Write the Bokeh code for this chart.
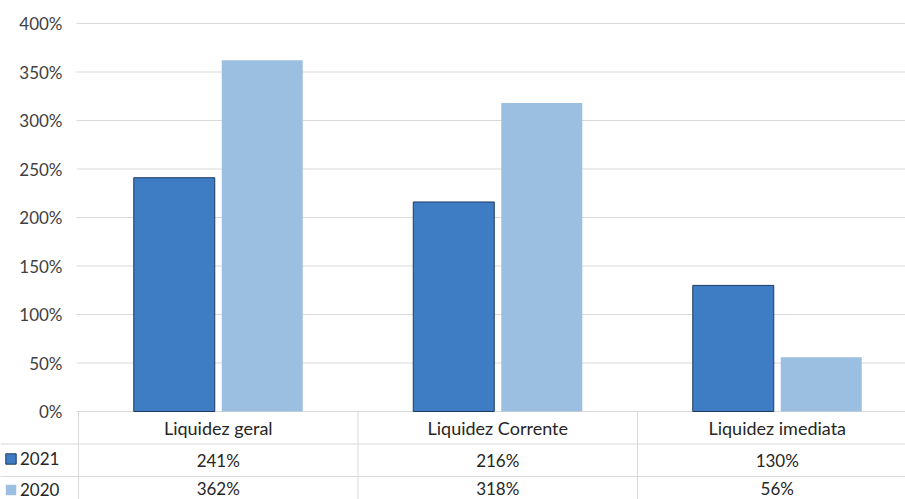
from bokeh.plotting import figure
from bokeh.models import Range1d, ColumnDataSource, Legend, LegendItem
from bokeh.core.properties import value
from bokeh.transform import dodge
from bokeh.embed import file_html
from bokeh.resources import INLINE

# ---- data -------------------------------------------------------------
categories = ["Liquidez geral", "Liquidez Corrente", "Liquidez imediata"]
series_names = ["2021", "2020"]
values_2021 = [241, 216, 130]
values_2020 = [362, 318, 56]
y_ticks = [0, 50, 100, 150, 200, 250, 300, 350, 400]

# ---- layout constants (pixels) ------------------------------------------
W, H = 905, 499
ZERO_X = 78               # canvas column where the first category starts
CAT_PX = 279.5            # horizontal pixels per category
PX_PER_UNIT = 0.97        # vertical pixels per percentage point
ZERO_Y = 411              # canvas row of the 0% line
LABEL_RIGHT = 62          # right edge of the y tick labels
GRID_LEFT = 76            # left end of the gridlines
ROW_PX = 32.5             # height of one data-table row

BAR_W = 81 / CAT_PX
OFFSET = 44 / CAT_PX

FONT = "Lato"
C2021 = "#3e7cc4"
C2020 = "#9bbfe0"
GRID = "#d9d9d9"
TXT = "#262626"

x_start = -ZERO_X / CAT_PX
x_end = (W - ZERO_X) / CAT_PX
y_start = -(H - ZERO_Y) / PX_PER_UNIT
y_end = ZERO_Y / PX_PER_UNIT
ROW = ROW_PX / PX_PER_UNIT


def px_to_x(px):
    return (px - ZERO_X) / CAT_PX


pos = [i + 0.5 for i in range(len(categories))]
src = ColumnDataSource(dict(
    x=pos,
    cat=categories,
    v2021=values_2021,
    v2020=values_2020,
    t2021=[f"{v}%" for v in values_2021],
    t2020=[f"{v}%" for v in values_2020],
))

p = figure(width=W, height=H, output_backend="svg", toolbar_location=None,
           x_range=Range1d(x_start, x_end), y_range=Range1d(y_start, y_end),
           min_border_left=0, min_border_right=0, min_border_top=0,
           min_border_bottom=0, x_axis_location=None, y_axis_location=None)
p.outline_line_color = None
p.background_fill_color = "white"
p.border_fill_color = "white"
p.xgrid.grid_line_color = None
p.ygrid.grid_line_color = None

# value axis: gridlines and percentage labels
tick_src = ColumnDataSource(dict(y=y_ticks, label=[f"{t}%" for t in y_ticks]))
p.segment(x0=px_to_x(GRID_LEFT), y0="y", x1=x_end, y1="y", source=tick_src,
          line_color=GRID, line_width=1)
p.text(x=px_to_x(LABEL_RIGHT), y="y", text="label", source=tick_src,
       text_font=value(FONT), text_font_size="17px", text_color="#404040",
       text_align="right", text_baseline="middle")

# bars
r21 = p.vbar(x=dodge("x", -OFFSET, range=p.x_range), top="v2021", bottom=0, width=BAR_W,
             source=src, fill_color=C2021, line_color="#1f3a5f", line_width=1)
r20 = p.vbar(x=dodge("x", OFFSET, range=p.x_range), top="v2020", bottom=0, width=BAR_W,
             source=src, fill_color=C2020, line_color=None)

# data table below the plot
n = len(categories)
p.segment(x0=list(range(n + 1)), y0=[0] * (n + 1),
          x1=list(range(n + 1)), y1=[y_start] * (n + 1),
          line_color=GRID, line_width=1)
p.segment(x0=[x_start, x_start], y0=[-ROW, -2 * ROW],
          x1=[x_end, x_end], y1=[-ROW, -2 * ROW],
          line_color=GRID, line_width=1)

p.text(x="x", y=-0.5 * ROW, text="cat", source=src, text_font=value(FONT),
       text_font_size="18px", text_color=TXT, text_align="center",
       text_baseline="middle")
p.text(x="x", y=-1.5 * ROW, text="t2021", source=src, text_font=value(FONT),
       text_font_size="17px", text_color=TXT, text_align="center",
       text_baseline="middle")
p.text(x="x", y=-2.37 * ROW, text="t2020", source=src, text_font=value(FONT),
       text_font_size="17px", text_color=TXT, text_align="center",
       text_baseline="middle")

# series keys in the table's first column
legend = Legend(items=[LegendItem(label=series_names[0], renderers=[r21]),
                       LegendItem(label=series_names[1], renderers=[r20])],
                location=(4, -1), orientation="vertical",
                glyph_width=13, glyph_height=13, label_height=20,
                spacing=10, label_standoff=3, padding=0, margin=0,
                label_text_font=FONT, label_text_font_size="17px",
                label_text_color=TXT,
                border_line_color=None, background_fill_alpha=0)
p.add_layout(legend, "center")

open("out.html", "w").write(file_html(p, INLINE))
